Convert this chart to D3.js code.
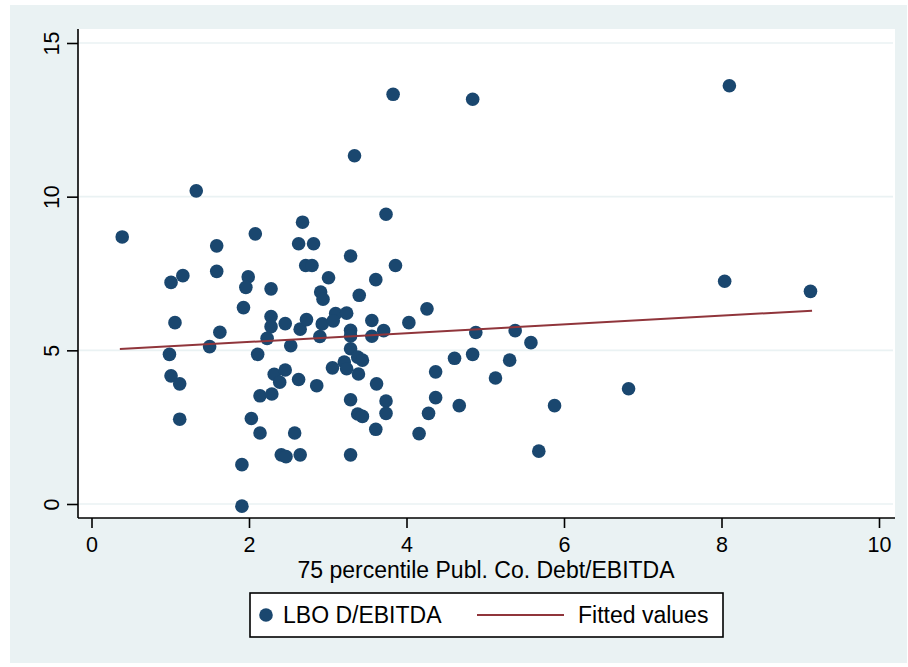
<!DOCTYPE html>
<html>
<head>
<meta charset="utf-8">
<script src="https://cdn.jsdelivr.net/npm/d3@7"></script>
<style>
  body { margin: 0; background: #fff; }
  svg { display: block; font-family: "Liberation Sans", Arial, sans-serif; }
  .axis path, .axis line { stroke: #000; stroke-width: 1.6px; }
  .axis text { fill: #000; font-size: 21.5px; }
</style>
</head>
<body>
<svg id="chart" width="908" height="667"></svg>
<script>
// LBO D/EBITDA vs 75 percentile public company Debt/EBITDA
var pubDebt = [0.39, 1.33, 1.59, 2.08, 2.68, 2.63, 2.82, 2.72, 2.80, 1.01,
               1.16, 1.59, 1.99, 1.96, 2.28, 1.93, 1.06, 1.63, 2.28, 2.28,
               2.46, 2.23, 2.65, 2.73, 2.53, 1.50, 0.99, 1.01, 1.12, 1.12,
               2.11, 2.32, 2.46, 2.39, 2.14, 2.29, 2.03, 2.14, 2.58, 2.41,
               2.47, 2.65, 1.91, 1.91, 3.01, 3.29, 3.86, 3.61, 2.91, 2.94,
               3.40, 2.93, 3.10, 3.24, 3.07, 3.56, 4.03, 4.26, 2.90, 3.29,
               3.29, 3.56, 3.71, 3.29, 2.63, 2.86, 3.06, 3.21, 3.24, 3.39,
               3.38, 3.44, 3.62, 4.37, 4.37, 3.29, 3.74, 3.74, 3.38, 3.44,
               3.61, 4.28, 4.16, 3.29, 4.67, 3.83, 4.84, 3.34, 3.74, 4.88,
               5.38, 5.58, 4.61, 4.84, 5.31, 5.13, 6.82, 5.88, 5.68, 8.10,
               8.04, 9.13];
var lboDebt = [8.69, 10.19, 8.40, 8.79, 9.17, 8.47, 8.47, 7.76, 7.76, 7.21,
               7.43, 7.57, 7.39, 7.05, 7.00, 6.39, 5.90, 5.59, 6.10, 5.77,
               5.87, 5.39, 5.69, 6.00, 5.15, 5.12, 4.87, 4.17, 3.91, 2.76,
               4.87, 4.22, 4.36, 3.96, 3.52, 3.58, 2.78, 2.31, 2.31, 1.60,
               1.54, 1.60, 1.28, -0.07, 7.36, 8.07, 7.76, 7.30, 6.90, 6.66,
               6.79, 5.86, 6.20, 6.21, 5.96, 5.97, 5.90, 6.35, 5.45, 5.65,
               5.47, 5.46, 5.64, 5.05, 4.05, 3.85, 4.43, 4.62, 4.40, 4.23,
               4.78, 4.68, 3.91, 4.30, 3.46, 3.39, 3.35, 2.95, 2.93, 2.85,
               2.43, 2.95, 2.29, 1.60, 3.20, 13.33, 13.17, 11.33, 9.43, 5.58,
               5.64, 5.25, 4.74, 4.87, 4.68, 4.10, 3.75, 3.20, 1.72, 13.61,
               7.25, 6.92];

// fitted line end points
var fitX = [0.36, 9.15];
var fitY = [5.04, 6.29];

var xTicks = [0, 2, 4, 6, 8, 10];
var yTicks = [0, 5, 10, 15];

var svg = d3.select("#chart");

// outer background
svg.append("rect")
    .attr("x", 10).attr("y", 5)
    .attr("width", 897).attr("height", 658)
    .style("fill", "#eaf2f3");

// plot region
svg.append("rect")
    .attr("x", 78).attr("y", 29)
    .attr("width", 817).attr("height", 489)
    .style("fill", "#fff");

var x = d3.scaleLinear().domain([0, 10]).range([91.5, 879]);
var y = d3.scaleLinear().domain([0, 15]).range([504, 43]);

// grid
svg.selectAll(".grid")
    .data(yTicks)
  .enter().append("line")
    .attr("class", "grid")
    .attr("x1", 79).attr("x2", 893)
    .attr("y1", function(d) { return y(d); })
    .attr("y2", function(d) { return y(d); })
    .style("stroke", "#eaf2f3")
    .style("stroke-width", 1.6);

var xAxis = d3.axisBottom(x)
    .tickValues(xTicks)
    .tickSize(10)
    .tickFormat(d3.format("d"));

var yAxis = d3.axisLeft(y)
    .tickValues(yTicks)
    .tickSize(11)
    .tickFormat(d3.format("d"));

var gx = svg.append("g")
    .attr("class", "x axis")
    .attr("transform", "translate(0,518)")
    .call(xAxis);
gx.select(".domain").attr("d", "M78,0H895");
gx.selectAll("text").attr("y", 19).attr("dy", "0.71em");

var gy = svg.append("g")
    .attr("class", "y axis")
    .attr("transform", "translate(78,0)")
    .call(yAxis);
gy.select(".domain").attr("d", "M0,29V518");
gy.selectAll(".tick text")
    .attr("x", 0)
    .attr("y", -19)
    .attr("dy", 0)
    .attr("transform", "rotate(-90)")
    .style("text-anchor", "middle");

svg.append("text")
    .attr("x", 486).attr("y", 578)
    .style("text-anchor", "middle")
    .style("font-size", "23px")
    .text("75 percentile Publ. Co. Debt/EBITDA");

// points
var pts = pubDebt.map(function(d, i) { return {x: d, y: lboDebt[i]}; });
svg.selectAll(".dot")
    .data(pts)
  .enter().append("circle")
    .attr("class", "dot")
    .attr("cx", function(d) { return x(d.x); })
    .attr("cy", function(d) { return y(d.y); })
    .attr("r", 6.8)
    .style("fill", "#1a476f");

// fitted values
svg.append("line")
    .attr("x1", x(fitX[0])).attr("y1", y(fitY[0]))
    .attr("x2", x(fitX[1])).attr("y2", y(fitY[1]))
    .style("stroke", "#90353b")
    .style("stroke-width", 2);

// legend
var legend = svg.append("g");
legend.append("rect")
    .attr("x", 250).attr("y", 593)
    .attr("width", 473).attr("height", 44)
    .style("fill", "#fff")
    .style("stroke", "#000")
    .style("stroke-width", 1.6);
legend.append("circle")
    .attr("cx", 266).attr("cy", 615).attr("r", 6.8)
    .style("fill", "#1a476f");
legend.append("text")
    .attr("x", 283).attr("y", 623)
    .style("font-size", "23px")
    .text("LBO D/EBITDA");
legend.append("line")
    .attr("x1", 477).attr("x2", 564)
    .attr("y1", 615).attr("y2", 615)
    .style("stroke", "#90353b")
    .style("stroke-width", 2);
legend.append("text")
    .attr("x", 578).attr("y", 623)
    .style("font-size", "23px")
    .text("Fitted values");
</script>
</body>
</html>
